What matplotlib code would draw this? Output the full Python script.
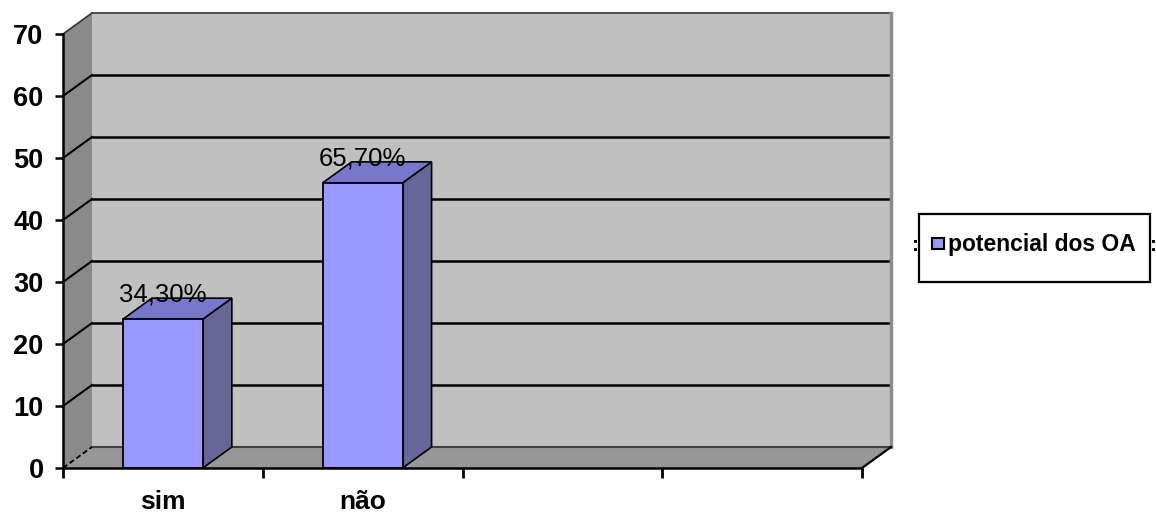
import matplotlib
matplotlib.use("Agg")
import matplotlib.pyplot as plt
from matplotlib.patches import Polygon, Rectangle

# ---- data -------------------------------------------------------------
categories = ["sim", "não", "", ""]
percent = [34.30, 65.70]          # share of answers per category
respondents = 70                   # total answers (value axis scale)
series_name = "potencial dos OA"
y_ticks = [0, 10, 20, 30, 40, 50, 60, 70]

heights = [p / 100 * respondents for p in percent]
labels = [f"{p:.2f}".replace(".", ",") + "%" for p in percent]

plt.rcParams["font.family"] = ["Liberation Sans", "DejaVu Sans"]

W, H = 1156, 514
fig = plt.figure(figsize=(W / 100, H / 100), dpi=100)
fig.patch.set_facecolor("white")

# front plane of the 3-D box, in pixels
L, R, B, T = 63, 862, 468, 34
ax = fig.add_axes([L / W, 1 - B / H, (R - L) / W, (B - T) / H])
ncat = len(categories)
ymax = y_ticks[-1]
ax.set_xlim(0, ncat)
ax.set_ylim(0, ymax)
ax.patch.set_visible(False)

# depth offset of the back wall (data units)
dx = 29 / ((R - L) / ncat)
dy = 21 / ((B - T) / ymax)

# ---- walls and floor --------------------------------------------------
ax.add_patch(Rectangle((dx, dy), ncat, ymax, fc="#c0c0c0", ec="none",
                       clip_on=False, zorder=0.1))
ax.add_patch(Polygon([(0, 0), (dx, dy), (dx, ymax + dy), (0, ymax)],
                     closed=True, fc="#8a8a8a", ec="none", clip_on=False,
                     zorder=0.2))
ax.add_patch(Polygon([(0, 0), (ncat, 0), (ncat + dx, dy), (dx, dy)],
                     closed=True, fc="#979797", ec="none", clip_on=False,
                     zorder=0.3))

# wall outlines
ax.plot([dx, ncat + dx], [ymax + dy] * 2, color="#555555", lw=1.5,
        clip_on=False, zorder=0.5)
ax.plot([ncat + dx] * 2, [dy, ymax + dy], color="#8c8c8c", lw=2.5,
        clip_on=False, zorder=0.5)
ax.plot([dx, ncat + dx], [dy, dy], color="#404040", lw=1.5,
        clip_on=False, zorder=0.5)
ax.plot([0, dx], [ymax, ymax + dy], color="#333333", lw=1.2,
        clip_on=False, zorder=0.5)
ax.plot([0, dx], [0, dy], color="black", lw=1.3, ls=(0, (3, 1.5)),
        clip_on=False, zorder=0.5)
ax.plot([ncat, ncat + dx], [0, dy], color="black", lw=1.6,
        clip_on=False, zorder=0.5)

# gridlines on back and side walls
for v in y_ticks[1:-1]:
    ax.plot([dx, ncat + dx], [v + dy] * 2, color="black", lw=1.8,
            clip_on=False, zorder=0.4)
    ax.plot([0, dx], [v, v + dy], color="black", lw=1.5,
            clip_on=False, zorder=0.4)

# ---- 3-D columns ------------------------------------------------------
w = 0.4
centers = [i + 0.5 for i in range(len(heights))]
ax.bar(centers, heights, width=w, color="#9999ff", edgecolor="black",
       lw=1.3, zorder=3)
for c, h, lab in zip(centers, heights, labels):
    xr = c + w / 2
    xl = c - w / 2
    ax.add_patch(Polygon([(xr, 0), (xr + dx, dy), (xr + dx, h + dy), (xr, h)],
                         closed=True, fc="#666699", ec="black", lw=1.2,
                         zorder=2.5))
    ax.add_patch(Polygon([(xl, h), (xr, h), (xr + dx, h + dy), (xl + dx, h + dy)],
                         closed=True, fc="#7777cc", ec="black", lw=1.2,
                         zorder=2.5))
    ax.text(c, h + dy + 0.6, lab, ha="center", va="center", fontsize=18.5,
            color="black", zorder=5)

# ---- axes -------------------------------------------------------------
for s in ("top", "right"):
    ax.spines[s].set_visible(False)
for s in ("left", "bottom"):
    ax.spines[s].set_color("black")
    ax.spines[s].set_linewidth(1.8)
    ax.spines[s].set_zorder(4)

ax.set_yticks(y_ticks, labels=[str(v) for v in y_ticks],
              fontweight="bold", fontsize=19.5)
ax.tick_params(axis="y", direction="out", length=5.5, width=1.8, pad=8.5,
               colors="black")

ax.set_xticks(range(ncat + 1), labels=[""] * (ncat + 1))
ax.tick_params(axis="x", which="major", direction="out", length=7, width=2,
               colors="black")
ax.set_xticks(centers + [i + 0.5 for i in range(len(heights), ncat)],
              labels=categories, minor=True, fontweight="bold", fontsize=19)
ax.tick_params(axis="x", which="minor", length=0, pad=16)

# ---- legend -----------------------------------------------------------
bx0, by0, bx1, by1 = 919, 214, 1150, 282
fig.patches.append(Rectangle((bx0 / W, 1 - by1 / H), (bx1 - bx0) / W,
                             (by1 - by0) / H, transform=fig.transFigure,
                             fc="white", ec="black", lw=1.6, zorder=1))
fig.patches.append(Rectangle((932 / W, 1 - 249 / H), 12 / W, 11 / H,
                             transform=fig.transFigure, fc="#9999ff",
                             ec="black", lw=1.5, zorder=2))
fig.text(948 / W, 1 - 251 / H, series_name, fontsize=16.5, fontweight="bold",
         ha="left", va="baseline", zorder=3)
fig.text(916 / W, 1 - 251 / H, ":", fontsize=15, fontweight="bold",
         ha="center", va="baseline", zorder=3)
fig.text(1153 / W, 1 - 251 / H, ":", fontsize=15, fontweight="bold",
         ha="center", va="baseline", zorder=3)

fig.savefig("out.png", dpi=100, facecolor="white")
